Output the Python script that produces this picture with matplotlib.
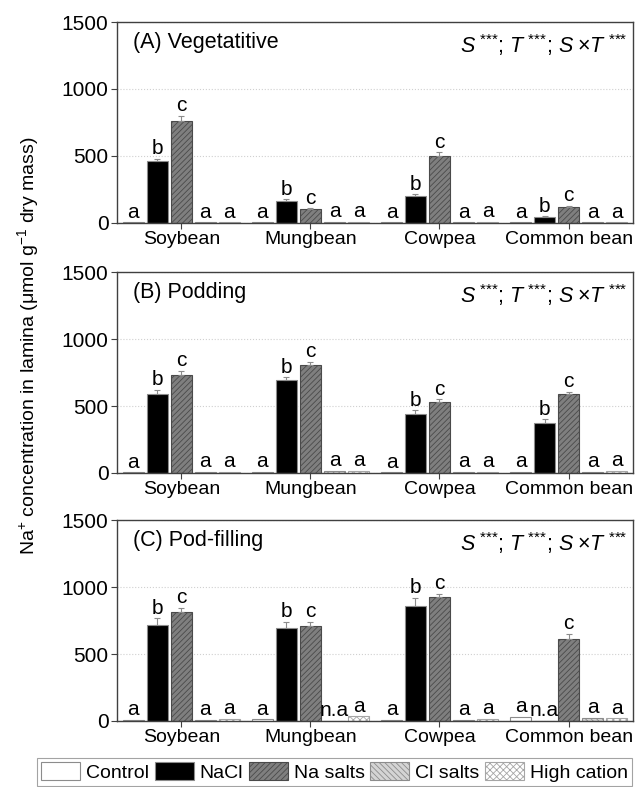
import matplotlib.pyplot as plt
import numpy as np
from matplotlib.patches import Patch

plt.rcParams['font.family'] = ['Liberation Sans', 'DejaVu Sans']
plt.rcParams['mathtext.fontset'] = 'custom'
plt.rcParams['mathtext.rm'] = 'Liberation Sans'
plt.rcParams['mathtext.it'] = 'Liberation Sans:italic'
plt.rcParams['hatch.linewidth'] = 0.6

species = ['Soybean', 'Mungbean', 'Cowpea', 'Common bean']
treatments = ['Control', 'NaCl', 'Na salts', 'Cl salts', 'High cation']
panel_titles = ['(A) Vegetatitive', '(B) Podding', '(C) Pod-filling']

# values per treatment, one entry per species (nan = not available)
veg_means = [[3, 3, 3, 2],
             [465, 164, 197, 45],
             [757, 102, 495, 119],
             [2, 5, 2, 2],
             [2, 5, 5, 2]]
veg_errs = [[0, 0, 0, 0],
            [15, 10, 15, 3],
            [40, 5, 30, 6],
            [0, 0, 0, 0],
            [0, 0, 0, 0]]
veg_letters = [['a'] * 4, ['b'] * 4, ['c'] * 4, ['a'] * 4, ['a'] * 4]

pod_means = [[5, 10, 5, 10],
             [588, 695, 443, 370],
             [733, 805, 530, 593],
             [10, 15, 10, 10],
             [10, 15, 10, 15]]
pod_errs = [[0, 0, 0, 0],
            [35, 20, 25, 30],
            [33, 25, 20, 15],
            [0, 0, 0, 0],
            [0, 0, 0, 0]]
pod_letters = [['a'] * 4, ['b'] * 4, ['c'] * 4, ['a'] * 4, ['a'] * 4]

fill_means = [[10, 12, 10, 30],
              [721, 692, 858, np.nan],
              [815, 707, 923, 609],
              [10, np.nan, 10, 25],
              [15, 35, 15, 20]]
fill_errs = [[0, 0, 0, 0],
             [47, 47, 60, 0],
             [30, 32, 25, 40],
             [0, 0, 0, 0],
             [0, 0, 0, 0]]
fill_letters = [['a', 'a', 'a', 'a'],
                ['b', 'b', 'b', 'n.a'],
                ['c', 'c', 'c', 'c'],
                ['a', 'n.a', 'a', 'a'],
                ['a', 'a', 'a', 'a']]

panels = [(veg_means, veg_errs, veg_letters),
          (pod_means, pod_errs, pod_letters),
          (fill_means, fill_errs, fill_letters)]

styles = [dict(facecolor='white', edgecolor='#8c8c8c', hatch=None),
          dict(facecolor='black', edgecolor='#8c8c8c', hatch=None),
          dict(facecolor='#7f7f7f', edgecolor='#4a4a4a', hatch='//////'),
          dict(facecolor='#d4d4d4', edgecolor='#8c8c8c', hatch='\\\\\\\\\\\\'),
          dict(facecolor='white', edgecolor='#a6a6a6', hatch='xxxxx')]

fig = plt.figure(figsize=(6.35, 7.87), dpi=100)
left, width = 0.184, 0.813
bottoms = [0.717, 0.399, 0.0839]
height = 0.255
step = 0.186
bw = 0.167
x = np.arange(len(species))
stat_text = r'$S\;^{\text{***}}$; $T\;^{\text{***}}$; $S\;{\times}T\;^{\text{***}}$'

for p, (means, errs, letters) in enumerate(panels):
    ax = fig.add_axes([left, bottoms[p], width, height])
    for t in range(len(treatments)):
        pos = x + (t - 2) * step
        vals = np.array(means[t], dtype=float)
        e = np.array(errs[t], dtype=float)
        st = styles[t]
        ax.bar(pos, np.nan_to_num(vals), bw, facecolor=st['facecolor'],
               edgecolor=st['edgecolor'], hatch=st['hatch'], linewidth=0.8, zorder=2)
        has_err = e > 0
        if has_err.any():
            ax.errorbar(pos[has_err], vals[has_err], yerr=[np.zeros(has_err.sum()), e[has_err]],
                        fmt='none', ecolor='#8c8c8c', elinewidth=0.8, capsize=2.5, capthick=0.8, zorder=3)
        for i in range(len(species)):
            top = np.nan_to_num(vals[i]) + e[i]
            ax.annotate(letters[t][i], (pos[i], top), xytext=(0, 0.5), textcoords='offset points',
                        ha='center', va='bottom', fontsize=15)
    ax.set_xlim(-0.5, 3.5)
    ax.set_ylim(0, 1500)
    ax.set_yticks([0, 500, 1000, 1500])
    ax.set_xticks(x)
    ax.set_xticklabels(species)
    ax.tick_params(axis='both', direction='out', length=4, color='#404040', pad=2)
    ax.tick_params(axis='y', labelsize=15)
    ax.tick_params(axis='x', labelsize=14)
    ax.yaxis.grid(True, linestyle=':', color='#d0d0d0', linewidth=0.8)
    ax.set_axisbelow(True)
    for s in ax.spines.values():
        s.set_color('#404040')
        s.set_linewidth(1.0)
    ax.text(0.031, 0.95, panel_titles[p], transform=ax.transAxes, fontsize=15.5, va='top', ha='left')
    ax.text(0.99, 0.95, stat_text, transform=ax.transAxes, fontsize=15.5, va='top', ha='right')

fig.text(0.044, 0.56, r'Na$^{+}$ concentration in lamina ($\mathrm{\mu}$mol g$^{-1}$ dry mass)',
         rotation=90, va='center', ha='center', fontsize=14)

handles = [Patch(facecolor=s['facecolor'], edgecolor=s['edgecolor'], hatch=s['hatch'], linewidth=0.8)
           for s in styles]
leg = fig.legend(handles, treatments, loc='center', bbox_to_anchor=(0.527, 0.0195), ncol=5,
                 fontsize=14, frameon=True, fancybox=False, edgecolor='#8c8c8c',
                 handlelength=2.0, handleheight=1.1, handletextpad=0.3, columnspacing=0.3,
                 borderpad=0.2, borderaxespad=0)
leg.get_frame().set_linewidth(0.8)

fig.savefig('out.png', dpi=100)
